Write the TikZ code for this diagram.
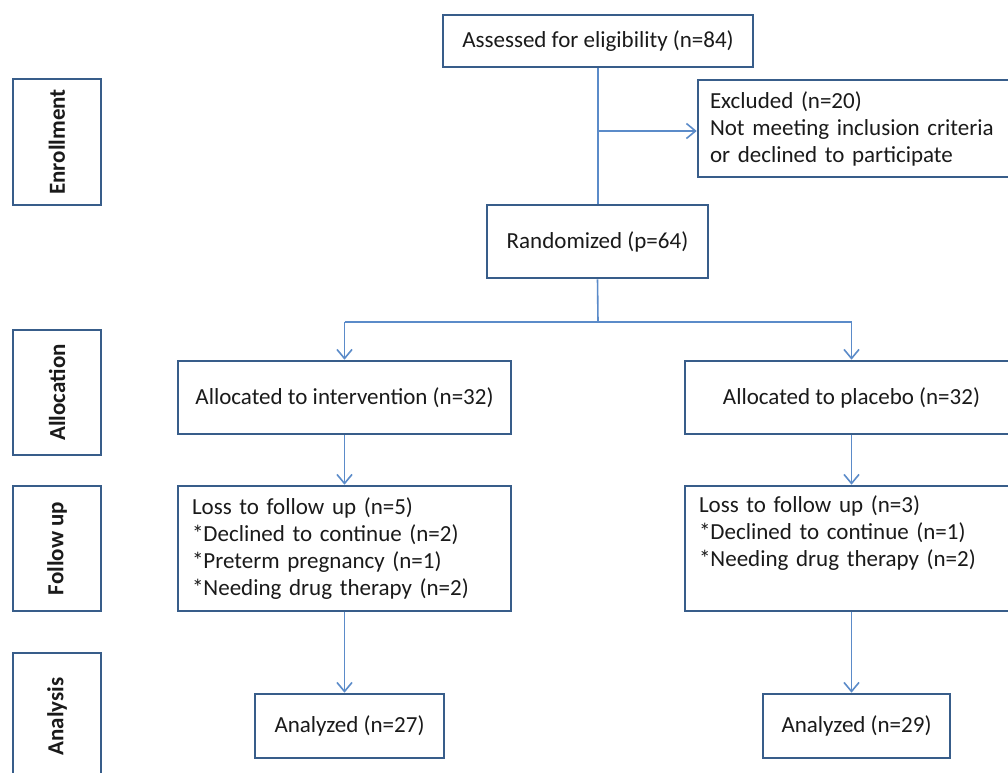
\documentclass[tikz,border=0pt]{standalone}
\usepackage{fontspec}
\setmainfont{Carlito}
\usetikzlibrary{arrows.meta}
\definecolor{boxblue}{HTML}{385D8A}
\definecolor{linkblue}{HTML}{5B8BC9}
\definecolor{txt}{HTML}{1A1A1A}
\begin{document}
\begin{tikzpicture}[x=1pt,y=-1pt,
  box/.style={draw=boxblue, line width=2.6pt, fill=white, text=txt,
    font=\fontsize{23}{27}\selectfont, inner sep=0pt},
  stage/.style={box, rotate=90, minimum height=88pt,
    font=\fontsize{23}{27}\selectfont\bfseries},
  link/.style={draw=linkblue, line width=1.6pt},
  arr/.style={link, -{Straight Barb[length=9pt,width=15pt]}}]
\useasboundingbox (0,0) rectangle (1008,772);
\clip (0,0) rectangle (1008,772);
% stage labels
\node[stage, minimum width=126pt] (senr) at (57,142) {Enrollment};
\node[stage, minimum width=125pt] (salloc) at (57,392.5) {Allocation};
\node[stage, minimum width=125pt] (sfol) at (57,548.5) {Follow up};
\node[stage, minimum width=127pt] (sana) at (57,716.5) {Analysis};
% flow boxes
\node[box, minimum width=310pt, minimum height=52pt] (assess) at (598,41) {Assessed for eligibility (n=84)};
\node[box, minimum height=97pt, text width=298pt, inner xsep=12pt, align=left] (excl) at (859,128.5)
  {Excluded (n=20)\\Not meeting inclusion criteria\\or declined to participate};
\node[box, minimum width=221pt, minimum height=73pt] (rand) at (597.5,241.5) {Randomized (p=64)};
\node[box, minimum width=333pt, minimum height=73pt] (int) at (344.5,397.5) {Allocated to intervention (n=32)};
\node[box, minimum width=333pt, minimum height=73pt] (plac) at (851.5,397.5) {Allocated to placebo (n=32)};
\node[box, minimum height=125pt, text width=305pt, inner xsep=14pt, align=left] (loss1) at (344.5,548.5)
  {Loss to follow up (n=5)\\\relax*Declined to continue (n=2)\\\relax*Preterm pregnancy (n=1)\\\relax*Needing drug therapy (n=2)};
\node[box, minimum height=125pt, text width=305pt, inner xsep=14pt, align=left] (loss2) at (851.5,548.5)
  {Loss to follow up (n=3)\\\relax*Declined to continue (n=1)\\\relax*Needing drug therapy (n=2)\\\strut};
\node[box, minimum width=189pt, minimum height=64pt] (an1) at (349.5,726) {Analyzed (n=27)};
\node[box, minimum width=187pt, minimum height=64pt] (an2) at (856.5,726) {Analyzed (n=29)};
% connectors
\coordinate (br) at (598,131);
\coordinate (split) at (598,322);
\coordinate (sl) at (344.5,322);
\coordinate (sr) at (851.5,322);
\draw[link] (assess.south) -- (assess.south |- rand.north);
\draw[arr] (br) -- (br -| excl.west);
\draw[link] (rand.south) -- (split);
\draw[link] (sl) -- (sr);
\draw[arr] (sl) -- (int.north);
\draw[arr] (sr) -- (plac.north);
\draw[arr] (int.south) -- (loss1.north);
\draw[arr] (plac.south) -- (loss2.north);
\draw[arr] (loss1.south) -- (loss1.south |- an1.north);
\draw[arr] (loss2.south) -- (loss2.south |- an2.north);
\end{tikzpicture}
\end{document}
